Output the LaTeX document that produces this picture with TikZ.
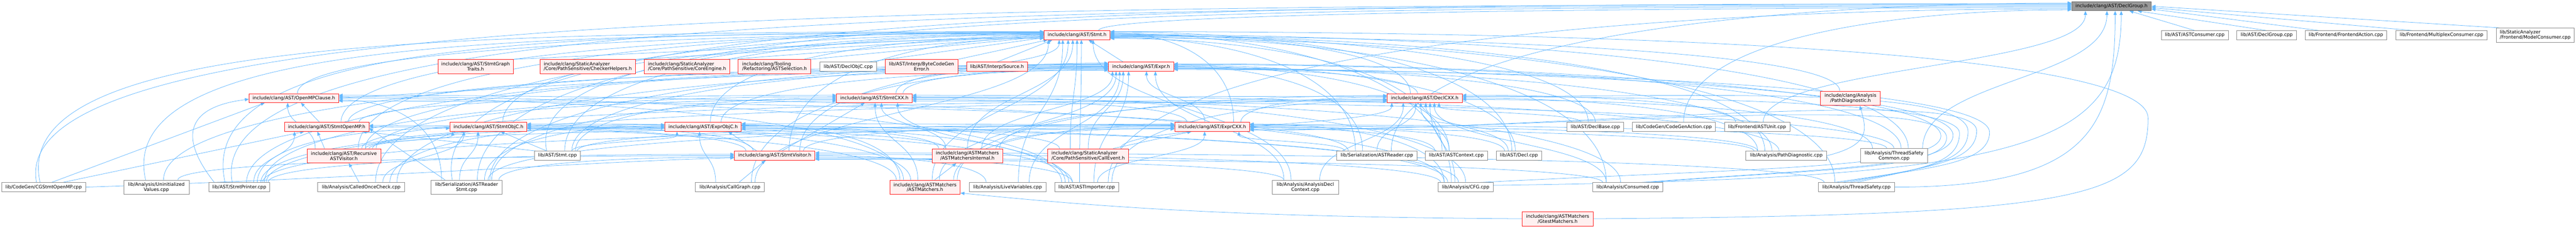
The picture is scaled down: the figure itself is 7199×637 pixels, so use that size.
\documentclass[tikz,border=0pt]{standalone}
\usepackage{fontspec}
\setmainfont{DejaVu Sans}
\usetikzlibrary{arrows.meta,calc,backgrounds}
\definecolor{ecol}{HTML}{63B8FF}
\definecolor{bred}{HTML}{FF1A1A}
\definecolor{bfill}{HTML}{FFF0F0}
\definecolor{bgrey}{HTML}{888888}
\definecolor{rfill}{HTML}{999999}
\definecolor{rline}{HTML}{666666}
\newcommand\lblfont{\fontsize{13pt}{14.2pt}\selectfont}
\newcommand\edU[4]{\draw[e] let \p1=([xshift=#2pt]#1.north), \p2=([xshift=#4pt]#3.south) in (\p1) .. controls +(0,{0.5*((\y2)-(\y1))}) and +(0,{-0.5*((\y2)-(\y1))}) .. (\p2);}
\newcommand\edL[4]{\draw[e] let \p1=([xshift=#2pt]#1.north), \p2=([yshift=#4pt]#3.west) in (\p1) .. controls +(0,{0.75*((\y2)-(\y1))}) and +({-0.45*((\x2)-(\x1))},0) .. (\p2);}
\newcommand\edR[4]{\draw[e] let \p1=([xshift=#2pt]#1.north), \p2=([yshift=#4pt]#3.east) in (\p1) .. controls +(0,{0.75*((\y2)-(\y1))}) and +({-0.45*((\x2)-(\x1))},0) .. (\p2);}
\newcommand\edT[4]{\draw[e] let \p1=([xshift=#2pt]#1.north), \p2=([yshift=#4pt]#3.west) in (\p1) .. controls +(-90,{0.95*((\y2)-(\y1))}) and +({-0.6*((\x2)-(\x1))},0) .. (\p2);}
\newcommand\edH[5]{\draw[e] let \p1=([xshift=#2pt]#1.north), \p2=([yshift=#4pt]#3.east), \p3=(#5) in (\p1) .. controls +({0.6*((\x3)-(\x1))},40) and +(0,-90) .. (\p3) .. controls +(0,130) and +({0.45*((\x3)-(\x2))},0) .. (\p2);}
\begin{document}
\begin{tikzpicture}[x=1pt,y=1pt,
  e/.style={draw=ecol, line width=1.1pt, -{Triangle[length=11pt,width=9pt]}},
  box/.style={rectangle, inner sep=0pt, font=\lblfont, align=center, text=black},
  trunc/.style={box, draw=bred, fill=bfill, line width=1.2pt},
  plain/.style={box, draw=bgrey, fill=white, line width=1.3pt},
  rootbox/.style={box, draw=rline, fill=rfill, line width=1.3pt},
  lft/.style={align=left}]
\useasboundingbox (0,0) rectangle (7199,-637);
% ---------- nodes ----------
\node[rootbox, minimum width=222pt, minimum height=25pt] (root) at (5901,-17.5) {include/clang/AST/DeclGroup.h};
\node[trunc, minimum width=184pt, minimum height=25pt] (stmt) at (3010,-98.5) {include/clang/AST/Stmt.h};
\node[plain, minimum width=187pt, minimum height=25pt] (astcons) at (6133.5,-98.5) {lib/AST/ASTConsumer.cpp};
\node[plain, minimum width=167pt, minimum height=25pt] (declgroupcpp) at (6334.5,-98.5) {lib/AST/DeclGroup.cpp};
\node[plain, minimum width=228pt, minimum height=25pt] (feaction) at (6556,-98.5) {lib/Frontend/FrontendAction.cpp};
\node[plain, minimum width=256pt, minimum height=25pt] (multiplex) at (6823,-98.5) {lib/Frontend/MultiplexConsumer.cpp};
\node[plain, lft, minimum width=218pt, minimum height=40pt] (modelcons) at (7085,-98.5) {lib/StaticAnalyzer\\/Frontend/ModelConsumer.cpp};
\node[trunc, minimum width=210pt, minimum height=40pt] (stmtgraph) at (1329,-186.5) {include/clang/AST/StmtGraph\\Traits.h};
\node[trunc, lft, minimum width=267pt, minimum height=40pt] (checkerhelpers) at (1642.5,-186.5) {include/clang/StaticAnalyzer\\/Core/PathSensitive/CheckerHelpers.h};
\node[trunc, lft, minimum width=238pt, minimum height=40pt] (coreengine) at (1920,-186.5) {include/clang/StaticAnalyzer\\/Core/PathSensitive/CoreEngine.h};
\node[trunc, lft, minimum width=203pt, minimum height=40pt] (astselection) at (2164.5,-186.5) {include/clang/Tooling\\/Refactoring/ASTSelection.h};
\node[plain, minimum width=159pt, minimum height=25pt] (declobjccpp) at (2370.5,-186.5) {lib/AST/DeclObjC.cpp};
\node[trunc, minimum width=203pt, minimum height=40pt] (bcgenerror) at (2575.5,-186.5) {lib/AST/Interp/ByteCodeGen\\Error.h};
\node[trunc, minimum width=169pt, minimum height=25pt] (source) at (2786.5,-186.5) {lib/AST/Interp/Source.h};
\node[trunc, minimum width=182pt, minimum height=25pt] (expr) at (3189,-186.5) {include/clang/AST/Expr.h};
\node[trunc, minimum width=250pt, minimum height=25pt] (openmpclause) at (821,-274.5) {include/clang/AST/OpenMPClause.h};
\node[trunc, minimum width=211pt, minimum height=25pt] (stmtcxx) at (2443.5,-274.5) {include/clang/AST/StmtCXX.h};
\node[trunc, minimum width=209pt, minimum height=25pt] (declcxx) at (3981.5,-274.5) {include/clang/AST/DeclCXX.h};
\node[trunc, minimum width=167pt, minimum height=40pt] (pathdiagh) at (5171.5,-275) {include/clang/Analysis\\/PathDiagnostic.h};
\node[trunc, minimum width=236pt, minimum height=25pt] (stmtopenmp) at (913,-355) {include/clang/AST/StmtOpenMP.h};
\node[trunc, minimum width=214pt, minimum height=25pt] (stmtobjc) at (1365,-355) {include/clang/AST/StmtObjC.h};
\node[trunc, minimum width=213pt, minimum height=25pt] (exprobjc) at (1965,-355) {include/clang/AST/ExprObjC.h};
\node[trunc, minimum width=209pt, minimum height=25pt] (exprcxx) at (3387.5,-355) {include/clang/AST/ExprCXX.h};
\node[plain, minimum width=159pt, minimum height=25pt] (declbasecpp) at (4458.5,-355) {lib/AST/DeclBase.cpp};
\node[plain, minimum width=232pt, minimum height=25pt] (codegenaction) at (4678,-355) {lib/CodeGen/CodeGenAction.cpp};
\node[plain, minimum width=183pt, minimum height=25pt] (astunit) at (4910.5,-355) {lib/Frontend/ASTUnit.cpp};
\node[trunc, minimum width=206pt, minimum height=40pt] (rav) at (961,-436) {include/clang/AST/Recursive\\ASTVisitor.h};
\node[plain, minimum width=128pt, minimum height=25pt] (stmtcpp) at (1558,-435.5) {lib/AST/Stmt.cpp};
\node[trunc, minimum width=225pt, minimum height=25pt] (stmtvisitor) at (2165,-435.5) {include/clang/AST/StmtVisitor.h};
\node[trunc, minimum width=197pt, minimum height=40pt] (ami) at (2703.5,-436) {include/clang/ASTMatchers\\/ASTMatchersInternal.h};
\node[trunc, lft, minimum width=226pt, minimum height=40pt] (callevent) at (3041,-436) {include/clang/StaticAnalyzer\\/Core/PathSensitive/CallEvent.h};
\node[plain, minimum width=224pt, minimum height=25pt] (astreadercpp) at (3848,-435.5) {lib/Serialization/ASTReader.cpp};
\node[plain, minimum width=174pt, minimum height=25pt] (astcontextcpp) at (4070,-435.5) {lib/AST/ASTContext.cpp};
\node[plain, minimum width=127pt, minimum height=25pt] (declcpp) at (4245,-435.5) {lib/AST/Decl.cpp};
\node[plain, minimum width=226pt, minimum height=25pt] (pathdiagcpp) at (4992,-435.5) {lib/Analysis/PathDiagnostic.cpp};
\node[plain, minimum width=188pt, minimum height=40pt] (tscommon) at (5293,-436) {lib/Analysis/ThreadSafety\\Common.cpp};
\node[plain, minimum width=235pt, minimum height=25pt] (cgstmtopenmp) at (122,-523.5) {lib/CodeGen/CGStmtOpenMP.cpp};
\node[plain, minimum width=183pt, minimum height=40pt] (uninit) at (437,-524) {lib/Analysis/Uninitialized\\Values.cpp};
\node[plain, minimum width=170pt, minimum height=25pt] (stmtprinter) at (669,-523.5) {lib/AST/StmtPrinter.cpp};
\node[plain, minimum width=243pt, minimum height=25pt] (calledonce) at (1009.5,-523.5) {lib/Analysis/CalledOnceCheck.cpp};
\node[plain, minimum width=198pt, minimum height=40pt] (astreaderstmt) at (1304,-524) {lib/Serialization/ASTReader\\Stmt.cpp};
\node[plain, minimum width=193pt, minimum height=25pt] (callgraph) at (2040,-523.5) {lib/Analysis/CallGraph.cpp};
\node[trunc, minimum width=197pt, minimum height=40pt] (astmatchers) at (2585,-524) {include/clang/ASTMatchers\\/ASTMatchers.h};
\node[plain, minimum width=214pt, minimum height=25pt] (livevars) at (2816,-523.5) {lib/Analysis/LiveVariables.cpp};
\node[plain, minimum width=178pt, minimum height=25pt] (astimporter) at (3037,-523.5) {lib/AST/ASTImporter.cpp};
\node[plain, minimum width=186pt, minimum height=40pt] (adc) at (3648,-524) {lib/Analysis/AnalysisDecl\\Context.cpp};
\node[plain, minimum width=155pt, minimum height=25pt] (cfg) at (4096,-523.5) {lib/Analysis/CFG.cpp};
\node[plain, minimum width=197pt, minimum height=25pt] (consumed) at (4549,-523.5) {lib/Analysis/Consumed.cpp};
\node[plain, minimum width=213pt, minimum height=25pt] (threadsafety) at (5188,-523.5) {lib/Analysis/ThreadSafety.cpp};
\node[trunc, minimum width=198pt, minimum height=40pt] (gtest) at (4353,-612) {include/clang/ASTMatchers\\/GtestMatchers.h};
\coordinate (loopturn) at (6003,-330);
\coordinate (h1) at (5424,-380);
\coordinate (h2) at (5440,-385);
\coordinate (h3) at (5458,-378);
\coordinate (h4) at (5476,-372);
\coordinate (h5) at (5500,-368);
\coordinate (h6) at (5524,-366);
\coordinate (h7) at (5560,-370);
% ---------- edges ----------
\begin{pgfonlayer}{background}
\fill[white] (0,0) rectangle (7199,-637);
% into root
\edL{stmt}{60}{root}{-4}
\draw[e] (astcons.north) -- ([xshift=50]root.south);
\draw[e] (declgroupcpp.north) -- ([xshift=73]root.south);
\draw[e] ([xshift=-75]feaction.north) -- ([yshift=-8]root.east);
\draw[e] ([xshift=-80]multiplex.north) -- ([yshift=-4]root.east);
\draw[e] ([xshift=-100]modelcons.north) -- (root.east);
\edL{codegenaction}{27}{root}{-10}
\edU{astunit}{17}{root}{-73}
\edU{tscommon}{80}{root}{-13}
\draw[e] (threadsafety.east) .. controls +(550,0) and +(0,-320) .. ([xshift=10]root.south);
\draw[e] ([yshift=5]cfg.east) .. controls +(1500,20) and +(0,-380) .. ([xshift=27]root.south);
\edL{astreadercpp}{40}{root}{9}
\edL{astimporter}{60}{root}{-7}
\edT{stmtcpp}{-30}{root}{-1}
\edT{stmtprinter}{-20}{root}{2}
\edT{cgstmtopenmp}{-20}{root}{5}
\edT{astreaderstmt}{-40}{root}{7}
% row 2 into stmt
\draw[e] (stmtgraph.north east) -- ([yshift=2]stmt.west);
\draw[e] (checkerhelpers.north east) -- (stmt.west);
\draw[e] (coreengine.north east) -- ([yshift=-2]stmt.west);
\draw[e] (astselection.north east) -- ([yshift=-4]stmt.west);
\draw[e] ([xshift=55]declobjccpp.north) -- ([yshift=-7]stmt.west);
\draw[e] (bcgenerror.north east) -- ([xshift=10]stmt.south west);
\draw[e] (source.north) -- ([xshift=-69]stmt.south);
\draw[e] ([xshift=-50]expr.north) -- ([xshift=32]stmt.south);
% row 3
\edL{openmpclause}{10}{stmt}{5}
\draw[e] (openmpclause.east) .. controls +(700,40) and +(-800,0) .. ([yshift=-4]expr.west);
\edU{stmtcxx}{60}{stmt}{-50}
\edL{stmtcxx}{80}{expr}{-8}
\edR{declcxx}{-40}{stmt}{3}
\edR{declcxx}{-20}{expr}{-5}
\edR{pathdiagh}{-30}{stmt}{-3}
% row 4
\draw[e] ([xshift=-20]stmtopenmp.north) -- ([xshift=20]openmpclause.south);
\edL{stmtopenmp}{40}{stmt}{7}
\edL{stmtopenmp}{60}{expr}{-2}
\edL{stmtopenmp}{90}{stmtcxx}{8}
\edL{stmtobjc}{40}{stmt}{4}
\edL{exprobjc}{50}{expr}{-10}
\edL{exprobjc}{20}{stmt}{-5}
\edU{exprcxx}{-20}{expr}{15}
\edR{exprcxx}{60}{stmt}{6}
\edR{exprcxx}{-70}{stmtcxx}{-4}
\edL{exprcxx}{80}{declcxx}{3}
\edU{declbasecpp}{-40}{declcxx}{40}
\edR{declbasecpp}{-20}{stmt}{0}
\edR{declbasecpp}{0}{expr}{-2}
\edR{astunit}{-60}{declcxx}{8}
% RecursiveASTVisitor
\draw[e] ([xshift=-54]rav.north) -- ([xshift=-26]stmtopenmp.south);
\edU{rav}{-80}{openmpclause}{-17}
\edU{rav}{60}{stmtobjc}{-100}
\edL{rav}{80}{exprobjc}{0}
\edL{rav}{90}{stmtcxx}{-4}
\edL{rav}{70}{exprcxx}{2}
\edL{rav}{60}{expr}{0}
\edL{rav}{40}{stmt}{9}
\edL{rav}{50}{declcxx}{-5}
% Stmt.cpp
\draw[e] ([xshift=-60]stmtcpp.north) -- ([xshift=100]stmtopenmp.south);
\draw[e] ([xshift=-30]stmtcpp.north) -- ([xshift=34]stmtobjc.south);
\edL{stmtcpp}{50}{stmtcxx}{0}
\edL{stmtcpp}{55}{exprcxx}{6}
\edL{stmtcpp}{40}{expr}{2}
\edU{stmtcpp}{40}{exprobjc}{-73}
\edL{stmtcpp}{20}{stmt}{1}
% StmtVisitor
\draw[e] ([xshift=-50]stmtvisitor.north) -- ([xshift=70]exprobjc.south);
\draw[e] ([xshift=20]stmtvisitor.north) -- ([xshift=-27]stmtcxx.south);
\edL{stmtvisitor}{80}{exprcxx}{8}
\edL{stmtvisitor}{70}{expr}{10}
\edR{stmtvisitor}{-60}{stmtobjc}{2}
\edR{stmtvisitor}{-80}{stmtopenmp}{4}
\edL{stmtvisitor}{40}{stmt}{-8}
% ASTMatchersInternal
\edU{ami}{0}{stmt}{-12}
\edU{ami}{40}{expr}{-80}
\edL{ami}{80}{exprcxx}{-4}
\edR{ami}{-80}{exprobjc}{-3}
\edU{ami}{-60}{stmtcxx}{20}
\edL{ami}{90}{declcxx}{-3}
\edR{ami}{-60}{stmtobjc}{-2}
% CallEvent
\edU{callevent}{-50}{stmt}{0}
\edU{callevent}{0}{expr}{-50}
\draw[e] ([xshift=70]callevent.north) -- ([xshift=-58]exprcxx.south);
\edR{callevent}{-80}{exprobjc}{3}
\edU{callevent}{90}{declcxx}{-92}
% ASTReader.cpp
\edU{astreadercpp}{0}{declcxx}{-25}
\edR{astreadercpp}{-40}{expr}{0}
\edU{astreadercpp}{-90}{exprcxx}{75}
\edR{astreadercpp}{-60}{stmt}{-6}
\edR{astreadercpp}{-80}{openmpclause}{-8}
% ASTContext.cpp
\edU{astcontextcpp}{-20}{declcxx}{-11}
\edR{astcontextcpp}{-20}{expr}{2}
\edR{astcontextcpp}{-60}{exprcxx}{-3}
\edR{astcontextcpp}{-40}{stmt}{-9}
% Decl.cpp
\edU{declcpp}{-30}{declcxx}{3}
\edR{declcpp}{-10}{expr}{4}
\edR{declcpp}{-40}{exprcxx}{0}
\edR{declcpp}{-20}{stmt}{9}
% PathDiagnostic.cpp
\draw[e] (pathdiagcpp.east) .. controls +(120,30) and +(20,-70) .. ([xshift=26]pathdiagh.south);
\edR{pathdiagcpp}{-60}{stmt}{-1}
\edR{pathdiagcpp}{-40}{expr}{-4}
\edR{pathdiagcpp}{-80}{exprcxx}{3}
\edR{pathdiagcpp}{-90}{exprobjc}{9}
\edR{pathdiagcpp}{-80}{declcxx}{0}
\edR{pathdiagcpp}{-20}{stmtcxx}{8}
% ThreadSafetyCommon.cpp
\edR{tscommon}{40}{stmt}{2}
\edR{tscommon}{20}{expr}{6}
\edR{tscommon}{-20}{exprcxx}{6}
\edR{tscommon}{-60}{declcxx}{-4}
\edR{tscommon}{0}{stmtcxx}{-8}
% CGStmtOpenMP.cpp
\edT{cgstmtopenmp}{-10}{stmt}{10}
\draw[e] ([xshift=22]cgstmtopenmp.north) -- ([xshift=-81]openmpclause.south);
\draw[e] ([xshift=53]cgstmtopenmp.north) -- ([xshift=-63]stmtopenmp.south);
\draw[e] (cgstmtopenmp.east) .. controls +(900,30) and +(-400,-10) .. ([yshift=-6]stmtvisitor.west);
% UninitializedValues.cpp
\edT{uninit}{-30}{stmt}{6}
\edL{uninit}{20}{expr}{6}
\edL{uninit}{60}{stmtvisitor}{0}
% StmtPrinter.cpp
\edT{stmtprinter}{-40}{stmt}{8}
\draw[e] ([xshift=-70]stmtprinter.north) .. controls +(-110,140) and +(-160,-20) .. ([yshift=-3]openmpclause.west);
\edU{stmtprinter}{40}{stmtopenmp}{-90}
\edL{stmtprinter}{50}{stmtobjc}{-4}
\edL{stmtprinter}{60}{exprobjc}{-3}
\edL{stmtprinter}{70}{stmtcxx}{4}
\edL{stmtprinter}{65}{exprcxx}{-6}
\edL{stmtprinter}{20}{expr}{4}
\edL{stmtprinter}{80}{stmtvisitor}{4}
\edL{stmtprinter}{75}{declcxx}{-9}
% CalledOnceCheck.cpp
\draw[e] ([xshift=-6]calledonce.north) -- ([xshift=14]rav.south);
\edU{calledonce}{60}{stmtobjc}{-69}
\edL{calledonce}{80}{exprobjc}{6}
\edL{calledonce}{100}{expr}{-6}
\edL{calledonce}{40}{stmt}{-9}
% ASTReaderStmt.cpp
\draw[e] ([xshift=-60]astreaderstmt.north) -- ([yshift=-4]stmtopenmp.east);
\edR{astreaderstmt}{-70}{openmpclause}{-5}
\edU{astreaderstmt}{-20}{stmtobjc}{-29}
\edL{astreaderstmt}{50}{exprobjc}{3}
\edL{astreaderstmt}{70}{stmtcxx}{-8}
\edL{astreaderstmt}{60}{exprcxx}{-2}
\edL{astreaderstmt}{65}{expr}{8}
\edL{astreaderstmt}{30}{stmt}{3}
\edL{astreaderstmt}{90}{stmtvisitor}{-4}
% CallGraph.cpp
\edU{callgraph}{-40}{exprobjc}{-10}
\draw[e] ([xshift=25]callgraph.north) -- ([xshift=-26]stmtvisitor.south);
\edL{callgraph}{60}{expr}{-1}
\edU{callgraph}{70}{stmt}{-80}
% ASTMatchers.h
\draw[e] ([xshift=27]astmatchers.north) -- ([xshift=-31]ami.south);
\edU{astmatchers}{-20}{stmtcxx}{2}
\edL{astmatchers}{80}{exprcxx}{4}
\edU{astmatchers}{40}{expr}{-70}
\edR{astmatchers}{-70}{exprobjc}{6}
\edR{astmatchers}{-40}{stmtobjc}{5}
\edR{astmatchers}{-60}{openmpclause}{0}
\edR{astmatchers}{-80}{stmtopenmp}{0}
\edU{astmatchers}{20}{stmt}{-25}
\edL{astmatchers}{90}{declcxx}{7}
% LiveVariables.cpp
\edU{livevars}{30}{stmt}{-40}
\edU{livevars}{60}{expr}{-60}
\edR{livevars}{-60}{stmtvisitor}{0}
% ASTImporter.cpp
\edU{astimporter}{-20}{stmt}{12}
\edU{astimporter}{20}{expr}{-35}
\edU{astimporter}{30}{exprcxx}{-21}
\edR{astimporter}{-70}{exprobjc}{0}
\edU{astimporter}{-50}{stmtcxx}{65}
\edR{astimporter}{-40}{stmtobjc}{-5}
\edR{astimporter}{-40}{stmtvisitor}{-4}
\edL{astimporter}{70}{declcxx}{-8}
\edR{astimporter}{-60}{openmpclause}{4}
% AnalysisDeclContext.cpp
\edU{adc}{-40}{stmt}{45}
\edU{adc}{-60}{expr}{40}
\edR{adc}{-60}{stmtvisitor}{-10}
\edU{adc}{40}{declcxx}{-60}
% CFG.cpp
\edR{cfg}{-40}{stmt}{5}
\edH{cfg}{40}{expr}{8}{h1}
\edR{cfg}{-60}{exprcxx}{8}
\edR{cfg}{-50}{exprobjc}{-6}
\edR{cfg}{0}{stmtcxx}{4}
\edR{cfg}{-20}{stmtobjc}{8}
\edR{cfg}{-70}{stmtvisitor}{4}
\edU{cfg}{-30}{declcxx}{15}
\edR{cfg}{-60}{openmpclause}{8}
% Consumed.cpp
\edR{consumed}{-60}{stmt}{-4}
\edH{consumed}{40}{expr}{-6}{h3}
\edH{consumed}{60}{exprcxx}{-8}{h2}
\edR{consumed}{-20}{stmtcxx}{0}
\edR{consumed}{-70}{stmtvisitor}{-8}
\edU{consumed}{-60}{declcxx}{27}
% ThreadSafety.cpp
\edR{threadsafety}{-60}{stmt}{-7}
\edH{threadsafety}{-60}{expr}{-8}{h7}
\edH{threadsafety}{-40}{exprcxx}{-9}{h6}
\edH{threadsafety}{0}{stmtcxx}{2}{h4}
\edR{threadsafety}{-90}{stmtvisitor}{8}
\edH{threadsafety}{-20}{declcxx}{4}{h5}
% GtestMatchers.h
\draw[e] (gtest.west) .. controls +(-800,5) and +(400,-40) .. ([yshift=-16]astmatchers.east);
\draw[e] (gtest.east) .. controls +(1400,10) and +(0,-220) .. (loopturn) .. controls +(0,160) and +(1800,0) .. ([yshift=10]stmt.east);
\end{pgfonlayer}
\end{tikzpicture}
\end{document}
